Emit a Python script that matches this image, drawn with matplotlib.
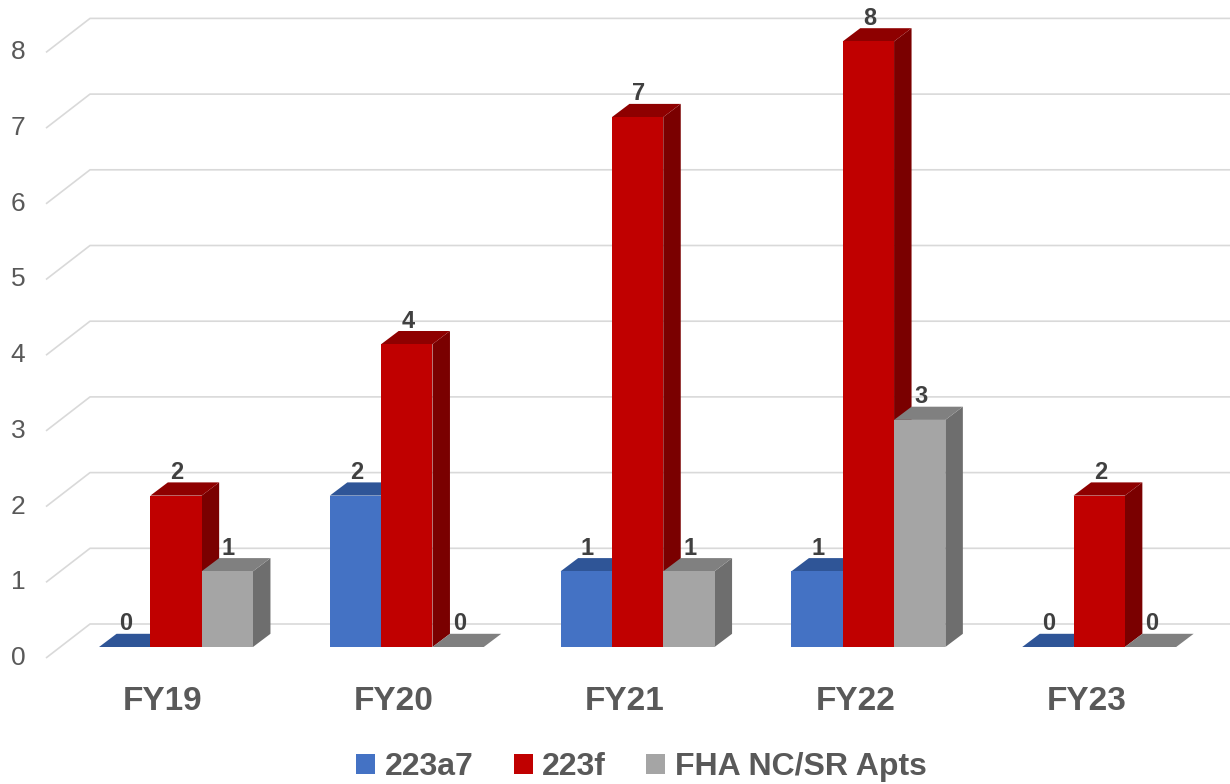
import matplotlib.pyplot as plt
from matplotlib.patches import Polygon, Patch

plt.rcParams['font.family'] = ['Liberation Sans', 'DejaVu Sans']

categories = ['FY19', 'FY20', 'FY21', 'FY22', 'FY23']
series_names = ['223a7', '223f', 'FHA NC/SR Apts']
a7 = [0, 2, 1, 1, 0]
f223 = [2, 4, 7, 8, 2]
fha = [1, 0, 1, 3, 0]
yticks = [0, 1, 2, 3, 4, 5, 6, 7, 8]

# front / top / side colours for each series
colors = [
    ('#4472C4', '#2F5597', '#2B4C84'),
    ('#C00000', '#8E0000', '#7A0000'),
    ('#A5A5A5', '#808080', '#6E6E6E'),
]

bar_w = 0.2223   # width of one bar in category units
dx = 0.0758      # depth offset (x)
dy = 0.1744      # depth offset (y)

fig = plt.figure(figsize=(12.3, 7.84), dpi=100)
ax = fig.add_axes([0, 0, 1, 1])
ax.set_xlim(-0.7626, 4.5667)
ax.set_ylim(-1.8098, 8.5469)
ax.axis('off')

# walls: diagonal on the side wall, then horizontal on the back wall
for v in yticks:
    ax.plot([-0.5633, -0.3726, 4.6], [v - 0.1453, v + 0.3038, v + 0.3038],
            color='#D9D9D9', lw=1.2, zorder=1, solid_capstyle='butt')
    ax.text(-0.6846, v - 0.1453, str(v), ha='center', va='center',
            fontsize=19, color='#595959')


def draw_bar(xc, v, cols):
    x0 = xc - bar_w / 2
    x1 = xc + bar_w / 2
    side = [(x1, 0), (x1 + dx, dy), (x1 + dx, v + dy), (x1, v)]
    top = [(x0, v), (x1, v), (x1 + dx, v + dy), (x0 + dx, v + dy)]
    front = [(x0, 0), (x1, 0), (x1, v), (x0, v)]
    ax.add_patch(Polygon(side, closed=True, fc=cols[2], ec='none', zorder=2))
    ax.add_patch(Polygon(top, closed=True, fc=cols[1], ec='none', zorder=2))
    ax.add_patch(Polygon(front, closed=True, fc=cols[0], ec='none', zorder=2))


all_series = [a7, f223, fha]
for i, cat in enumerate(categories):
    for j, vals in enumerate(all_series):
        xc = i + (j - 1) * bar_w
        draw_bar(xc, vals[i], colors[j])
        ax.text(xc + 0.005, vals[i] + 0.22, str(vals[i]), ha='center', va='baseline',
                fontsize=17, fontweight='bold', color='#404040', zorder=5)
    ax.text(i - 0.0563, -0.832, cat, ha='center', va='baseline',
            fontsize=24, fontweight='bold', color='#595959')

handles = [Patch(facecolor=c[0], edgecolor='none') for c in colors]
leg = fig.legend(handles, series_names, loc='center', ncol=3,
                 bbox_to_anchor=(641.5 / 1230, 1 - 767 / 784),
                 frameon=False, handlelength=0.6, handleheight=0.6,
                 handletextpad=0.3, columnspacing=1.25,
                 prop={'size': 23, 'weight': 'bold'})
for t in leg.get_texts():
    t.set_color('#595959')

plt.savefig('out.png', dpi=100)
